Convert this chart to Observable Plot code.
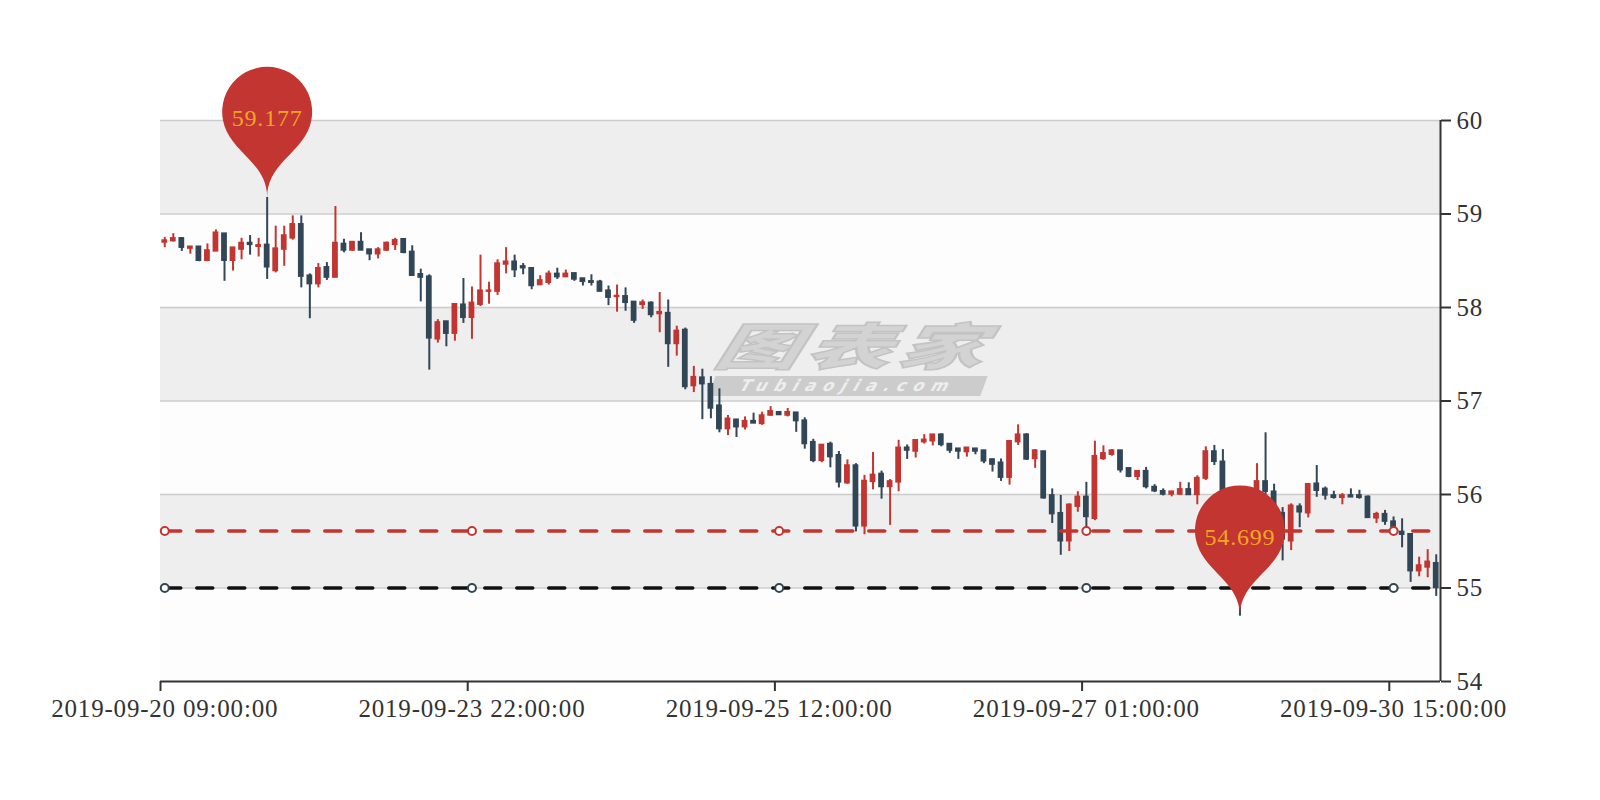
<!DOCTYPE html>
<html>
<head>
<meta charset="utf-8">
<script src="https://cdn.jsdelivr.net/npm/d3@7"></script>
<script src="https://cdn.jsdelivr.net/npm/@observablehq/plot@0.6"></script>
<style>
html, body { margin: 0; padding: 0; background: #ffffff; }
#wrap { position: relative; width: 1600px; height: 800px; overflow: hidden; background: #ffffff; }
#wm1 { position: absolute; left: 722px; top: 318px; font: italic 900 50px "Noto Sans CJK SC", sans-serif; letter-spacing: 4px; color: #d9d9d9; -webkit-text-stroke: 1.5px #c2c2c2; transform-origin: 0 0; transform: skewX(-12deg) scaleX(1.7); line-height: 1; white-space: nowrap; }
#wm2 { position: absolute; left: 712px; top: 376px; width: 272px; height: 20px; background: #cfcfcf; transform: skewX(-20deg); color: #ffffff; font: italic bold 16px "DejaVu Sans", sans-serif; letter-spacing: 7px; line-height: 20px; text-align: center; white-space: nowrap; }
#chart { position: absolute; left: 0; top: 0; }
#chart svg text { letter-spacing: 0.8px; }
</style>
</head>
<body>
<div id="wrap">
  <div id="wm1">图表家</div>
  <div id="wm2">Tubiaojia.com</div>
  <div id="chart"></div>
</div>
<script>
// ---- data ----
const opens = [58.695,58.71,58.74,58.63,58.65,58.50,58.60,58.79,58.50,58.62,58.69,58.65,58.67,58.39,58.62,58.74,58.89,58.34,58.25,58.43,
58.32,58.68,58.61,58.70,58.62,58.57,58.61,58.67,58.73,58.595,58.355,58.33,57.66,57.85,57.72,58.03,57.89,58.03,58.17,58.17,
58.46,58.49,58.44,58.42,58.24,58.265,58.36,58.325,58.365,58.31,58.28,58.275,58.18,58.113,58.12,58.06,58.028,58.05,57.93,57.94,
57.61,57.76,57.16,57.25,57.18,56.95,56.70,56.80,56.72,56.785,56.755,56.845,56.88,56.845,56.875,56.79,56.56,56.36,56.54,56.42,
56.12,56.31,55.66,56.135,56.22,56.08,56.13,56.50,56.46,56.56,56.57,56.64,56.54,56.49,56.454,56.49,56.47,56.375,56.34,56.18,
56.56,56.64,56.38,56.46,55.99,55.80,55.50,55.87,55.975,55.74,56.38,56.425,56.47,56.28,56.19,56.25,56.08,56.035,56.00,56.00,
56.055,55.995,56.17,56.46,56.35,55.98,55.55,55.30,55.92,56.14,56.03,55.80,55.50,55.87,55.80,56.115,56.06,55.99,55.965,55.99,
55.99,55.975,55.745,55.79,55.71,55.60,55.575,55.18,55.22,55.265];
const closes = [58.716,58.74,58.64,58.65,58.50,58.61,58.80,58.50,58.64,58.69,58.67,58.665,58.43,58.63,58.77,58.89,58.33,58.25,58.42,58.32,
58.69,58.61,58.70,58.61,58.57,58.62,58.69,58.72,58.585,58.34,58.32,57.67,57.84,57.72,58.035,57.89,58.05,58.18,58.18,58.47,
58.49,58.40,58.42,58.23,58.29,58.36,58.325,58.36,58.30,58.275,58.265,58.17,58.105,58.123,58.05,57.86,58.053,57.92,57.95,57.61,
57.75,57.15,57.255,57.18,56.92,56.70,56.81,56.72,56.785,56.76,56.845,56.89,56.85,56.88,56.785,56.54,56.36,56.53,56.40,56.13,
56.31,55.66,56.145,56.21,56.08,56.14,56.50,56.47,56.58,56.585,56.64,56.53,56.47,56.46,56.50,56.46,56.355,56.32,56.18,56.57,
56.64,56.375,56.47,55.96,55.79,55.50,55.89,55.975,55.76,56.41,56.44,56.47,56.26,56.19,56.25,56.08,56.035,56.00,56.03,56.055,
55.995,56.175,56.46,56.35,55.98,55.55,55.30,55.92,56.14,56.03,55.80,55.52,55.88,55.81,56.11,56.04,55.99,55.965,55.99,55.97,
55.965,55.75,55.79,55.71,55.64,55.57,55.18,55.24,55.28,55.00];
const highs = [58.75,58.79,58.74,58.65,58.65,58.68,58.83,58.79,58.64,58.74,58.77,58.74,59.177,58.87,58.87,58.98,58.98,58.36,58.47,58.48,
59.08,58.73,58.70,58.80,58.62,58.64,58.70,58.74,58.73,58.66,58.41,58.35,57.87,57.85,58.035,58.31,58.22,58.56,58.27,58.51,
58.64,58.56,58.47,58.42,58.34,58.39,58.42,58.40,58.365,58.31,58.35,58.29,58.23,58.24,58.21,58.06,58.08,58.06,58.16,58.08,
57.80,57.78,57.37,57.34,57.26,57.13,56.845,56.80,56.83,56.87,56.88,56.94,56.88,56.92,56.875,56.82,56.59,56.53,56.56,56.46,
56.37,56.33,56.205,56.45,56.25,56.16,56.58,56.53,56.58,56.64,56.64,56.65,56.54,56.49,56.50,56.49,56.47,56.375,56.38,56.57,
56.745,56.65,56.48,56.46,56.06,55.99,55.90,56.03,56.13,56.57,56.52,56.48,56.47,56.28,56.25,56.29,56.105,56.06,56.035,56.13,
56.125,56.20,56.51,56.525,56.48,56.02,55.62,55.98,56.33,56.66,56.11,55.86,55.90,55.90,56.11,56.31,56.08,56.035,56.01,56.06,
56.045,55.985,55.81,55.83,55.76,55.74,55.575,55.33,55.41,55.355];
const lows = [58.64,58.70,58.60,58.57,58.49,58.49,58.60,58.28,58.39,58.51,58.56,58.54,58.30,58.37,58.44,58.72,58.21,57.88,58.21,58.29,
58.32,58.585,58.60,58.61,58.50,58.52,58.60,58.61,58.575,58.34,58.06,57.33,57.62,57.58,57.64,57.83,57.66,58.01,58.035,58.13,
58.36,58.32,58.35,58.19,58.24,58.24,58.30,58.325,58.28,58.23,58.23,58.17,58.02,57.95,57.96,57.83,57.98,57.89,57.73,57.36,
57.48,57.12,57.09,56.80,56.81,56.66,56.63,56.61,56.69,56.76,56.74,56.835,56.85,56.83,56.665,56.485,56.34,56.34,56.285,56.07,
56.11,55.60,55.57,56.05,55.95,55.67,56.03,56.375,56.39,56.54,56.52,56.51,56.44,56.375,56.40,56.425,56.33,56.24,56.14,56.10,
56.525,56.365,56.28,55.95,55.69,55.35,55.39,55.81,55.64,55.72,56.365,56.41,56.23,56.18,56.15,56.06,56.02,55.985,55.975,55.99,
55.99,55.89,56.15,56.31,55.90,55.45,54.699,55.25,55.88,55.98,55.72,55.29,55.40,55.645,55.75,55.97,55.94,55.95,55.89,55.97,
55.95,55.75,55.69,55.67,55.585,55.43,55.06,55.12,55.11,54.91];
const tickLabels = ["2019-09-20 09:00:00","2019-09-23 22:00:00","2019-09-25 12:00:00","2019-09-27 01:00:00","2019-09-30 15:00:00"];
const labelEvery = 36;
const yTicks = [54, 55, 56, 57, 58, 59, 60];
const refValues = [55.61, 55.0];

// ---- derived tables ----
const categories = d3.range(opens.length);
const candles = categories.map(i => ({i, open: opens[i], close: closes[i], high: highs[i], low: lows[i]}));
const tickIdx = tickLabels.map((_, k) => k * labelEvery);
const bands = d3.range(yTicks.length - 1).map(k => ({k, y1: yTicks[k], y2: yTicks[k + 1]}));
const iMax = d3.maxIndex(highs), iMin = d3.minIndex(lows);
const fmt = d3.format(".3f");
const pins = [
  {i: iMax, v: highs[iMax], label: fmt(highs[iMax])},
  {i: iMin, v: lows[iMin], label: fmt(lows[iMin])}
];
const refLine = v => categories.map(i => ({i, v}));
const refDots = v => tickIdx.map(i => ({i, v}));

// ---- styles ----
const UP = "#c23531", DOWN = "#314656";
const W = 1600, H = 800, ML = 160, MR = 160, MT = 120, MB = 119;
const step = (W - ML - MR) / categories.length;
const candleColor = d => d.close >= d.open ? UP : DOWN;

const pinSymbol = {
  draw(ctx) {
    const r = 45, h = 150;
    const dy = r * r / (h - r), cy = -h + r + dy;
    const a = Math.asin(dy / r), dx = Math.cos(a) * r;
    const tx = Math.sin(a), ty = Math.cos(a), c1 = r * 0.6, c2 = r * 0.7;
    ctx.moveTo(-dx, cy + dy);
    ctx.arc(0, cy, r, Math.PI - a, 2 * Math.PI + a);
    ctx.bezierCurveTo(dx - tx * c1, cy + dy + ty * c1, 0, -c2, 0, 0);
    ctx.bezierCurveTo(0, -c2, -dx + tx * c1, cy + dy + ty * c1, -dx, cy + dy);
    ctx.closePath();
  }
};

const chart = Plot.plot({
  width: W, height: H,
  marginLeft: ML, marginRight: MR, marginTop: MT, marginBottom: MB,
  style: {background: "transparent", fontFamily: "'Liberation Serif', serif", fontSize: "25px", color: "#333"},
  x: {type: "band", domain: categories, paddingInner: 0.5, paddingOuter: 0.25, align: 0.5},
  y: {domain: [54, 60]},
  marks: [
    Plot.rect(bands.filter(d => d.k % 2 === 0), {y1: "y1", y2: "y2", fill: "rgb(250,250,250)", fillOpacity: 0.3}),
    Plot.rect(bands.filter(d => d.k % 2 === 1), {y1: "y1", y2: "y2", fill: "rgb(200,200,200)", fillOpacity: 0.3}),
    Plot.ruleY(yTicks.slice(1), {stroke: "#cccccc", strokeWidth: 1.6}),
    Plot.ruleX(candles, {x: "i", y1: "low", y2: "high", stroke: candleColor, strokeWidth: 2}),
    Plot.barY(candles, {x: "i", y1: "open", y2: "close", fill: candleColor, stroke: candleColor, strokeWidth: 1.5}),
    Plot.lineY(refLine(refValues[0]), {x: "i", y: "v", stroke: UP, strokeWidth: 3.5, strokeDasharray: "16,16"}),
    Plot.lineY(refLine(refValues[1]), {x: "i", y: "v", stroke: "#111111", strokeWidth: 3.5, strokeDasharray: "16,16"}),
    Plot.dot(refDots(refValues[0]), {x: "i", y: "v", r: 4, fill: "#ffffff", stroke: UP, strokeWidth: 2}),
    Plot.dot(refDots(refValues[1]), {x: "i", y: "v", r: 4, fill: "#ffffff", stroke: "#2f4554", strokeWidth: 2}),
    Plot.ruleY([yTicks[0]], {stroke: "#333333", strokeWidth: 2}),
    Plot.ruleX([categories[categories.length - 1]], {x: d => d, y1: yTicks[0], y2: yTicks[yTicks.length - 1], dx: step / 2, stroke: "#333333", strokeWidth: 2}),
    Plot.axisX({ticks: tickIdx, tickSize: 10, tickFormat: () => "", dx: -step / 2, stroke: "#333333", strokeWidth: 2, label: null}),
    Plot.axisX({ticks: tickIdx, tickSize: 0, tickPadding: 18, tickFormat: i => tickLabels[i / labelEvery], fill: "#333333", fontSize: 25, label: null}),
    Plot.axisY({anchor: "right", ticks: yTicks, tickSize: 10, tickPadding: 6, tickFormat: d3.format("d"), stroke: "#333333", fill: "#333333", strokeWidth: 2, fontSize: 25, label: null}),
    Plot.dot(pins, {x: "i", y: "v", symbol: pinSymbol, r: 10, fill: UP, stroke: "none"}),
    Plot.text(pins, {x: "i", y: "v", text: "label", dy: -79, fill: "#f5a623", fontSize: 24, fontFamily: "'Liberation Serif', serif"})
  ]
});
document.getElementById("chart").appendChild(chart);
</script>
</body>
</html>
